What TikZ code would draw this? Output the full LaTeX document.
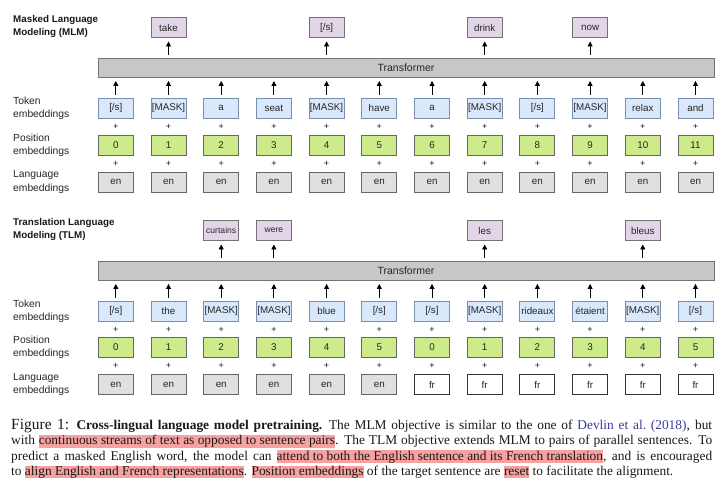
\documentclass[tikz,border=0pt]{standalone}
\usepackage{fontspec}
\setmainfont{Liberation Serif}
\newfontfamily\dsans{Liberation Sans}
\usetikzlibrary{arrows.meta}
\definecolor{tokfill}{HTML}{DAE8FC}
\definecolor{tokdraw}{HTML}{7A8FB0}
\definecolor{posfill}{HTML}{CDEB8B}
\definecolor{outfill}{HTML}{E1D5E7}
\definecolor{langfill}{HTML}{E0E0E0}
\definecolor{barfill}{HTML}{C8C8C8}
\definecolor{hl}{HTML}{F7A1A1}
\definecolor{linkblue}{HTML}{3A3A9E}
\newcommand{\hlt}[1]{{\setlength{\fboxsep}{0pt}\colorbox{hl}{\vrule height 9.7pt depth 3pt width 0pt #1}}}
\begin{document}
\begin{tikzpicture}[x=1pt,y=-1pt,
  emb/.style={line width=0.9pt, minimum width=35pt, minimum height=20pt, inner sep=0pt,
    font=\dsans\fontsize{9.8}{11}\selectfont, text=black!85},
  tokbox/.style={emb, fill=tokfill, draw=tokdraw},
  posbox/.style={emb, fill=posfill, draw=black!60},
  langbox/.style={emb, fill=langfill, draw=black!60},
  frbox/.style={emb, fill=white, draw=black!80},
  outbox/.style={emb, fill=outfill, draw=black!55},
  smallout/.style={font=\dsans\fontsize{8.6}{10}\selectfont},
  normout/.style={},
  bar/.style={draw=black!55, fill=barfill, line width=0.9pt, minimum width=616pt,
    minimum height=19pt, inner sep=0pt, font=\dsans\fontsize{10.5}{12}\selectfont, text=black!85},
  plussign/.style={font=\dsans\fontsize{9}{9}\selectfont, inner sep=0pt, text=black!90},
  lbl/.style={anchor=west, align=left, font=\dsans\fontsize{10.3}{13.3}\selectfont, inner sep=0pt, text=black!85},
  ttl/.style={anchor=west, align=left, font=\dsans\bfseries\fontsize{9.8}{13}\selectfont, inner sep=0pt, text=black!90},
  up/.style={-{Triangle[width=5pt,length=5pt]}, line width=0.9pt, shorten <=3pt, shorten >=3.5pt}]
\useasboundingbox (0,0) rectangle (723,483);
\fill[white] (0,0) rectangle (723,483);

% ---------------- MLM ----------------
\node[ttl] (mttl) at (13,26.5) {Masked Language\\Modeling (MLM)};
\node[bar] (mbar) at (406,67.5) {Transformer};
\node[lbl] (mlt) at (13,108) {Token\\embeddings};
\node[lbl] (mlp) at (13,145) {Position\\embeddings};
\node[lbl] (mll) at (13,182) {Language\\embeddings};
\foreach \t [count=\i] in {{[/s]},{[MASK]},a,seat,{[MASK]},have,a,{[MASK]},{[/s]},{[MASK]},relax,and}{
  \pgfmathsetmacro\cx{115.8+52.7*(\i-1)}
  \pgfmathtruncatemacro\p{\i-1}
  \node[tokbox] (mt\i) at (\cx,108) {\t};
  \node[plussign] (mpa\i) at (\cx,127) {+};
  \node[posbox] (mp\i) at (\cx,145) {\p};
  \node[plussign] (mpb\i) at (\cx,163.5) {+};
  \node[langbox] (ml\i) at (\cx,182) {en};
  \draw[up] (mt\i.north) -- (mt\i.north |- mbar.south);
}
\foreach \i/\w in {2/take,5/{[/s]},8/drink,10/now}{
  \pgfmathsetmacro\cx{115.8+52.7*(\i-1)}
  \node[outbox] (mo\i) at (\cx,27.5) {\w};
  \draw[up] (mo\i.south |- mbar.north) -- (mo\i.south);
}

% ---------------- TLM ----------------
\node[ttl] (tttl) at (13,229.5) {Translation Language\\Modeling (TLM)};
\node[bar] (tbar) at (406,270.5) {Transformer};
\node[lbl] (tlt) at (13,311) {Token\\embeddings};
\node[lbl] (tlp) at (13,347.5) {Position\\embeddings};
\node[lbl] (tll) at (13,384.5) {Language\\embeddings};
\foreach \t/\p/\l [count=\i] in {{[/s]}/0/langbox,the/1/langbox,{[MASK]}/2/langbox,{[MASK]}/3/langbox,blue/4/langbox,{[/s]}/5/langbox,
    {[/s]}/0/frbox,{[MASK]}/1/frbox,rideaux/2/frbox,{étaient}/3/frbox,{[MASK]}/4/frbox,{[/s]}/5/frbox}{
  \pgfmathsetmacro\cx{115.8+52.7*(\i-1)}
  \node[tokbox] (tt\i) at (\cx,311) {\t};
  \node[plussign] (tpa\i) at (\cx,329.5) {+};
  \node[posbox] (tp\i) at (\cx,347.5) {\p};
  \node[plussign] (tpb\i) at (\cx,366) {+};
  \node[\l] (tl\i) at (\cx,384.5) {\ifnum\i<7 en\else fr\fi};
  \draw[up] (tt\i.north) -- (tt\i.north |- tbar.south);
}
\foreach \i/\w/\s in {3/curtains/smallout,4/were/smallout,8/les/normout,11/bleus/normout}{
  \pgfmathsetmacro\cx{115.8+52.7*(\i-1)}
  \node[outbox,\s] (to\i) at (\cx,230.5) {\w};
  \draw[up] (to\i.south |- tbar.north) -- (to\i.south);
}

% ---------------- caption ----------------
\node[anchor=north west, text width=701pt, align=justify, inner sep=0pt,
      font=\fontsize{13.4}{15.3}\selectfont, text=black!90] (cap) at (11,419)
{{\fontsize{15.5}{15.3}\selectfont Figure 1:} \textbf{Cross-lingual language model pretraining.}\enspace The MLM objective is similar to the one of \textcolor{linkblue}{Devlin et~al.~(2018)}, but\linebreak
with \hlt{continuous streams of text as opposed to sentence pairs}. The TLM objective extends MLM to pairs of parallel sentences. To\linebreak
predict a masked English word, the model can \hlt{attend to both the English sentence and its French translation}, and is encouraged\linebreak
to \hlt{align English and French representations}. \hlt{Position embeddings} of the target sentence are \hlt{reset} to facilitate the alignment.};
\end{tikzpicture}
\end{document}
